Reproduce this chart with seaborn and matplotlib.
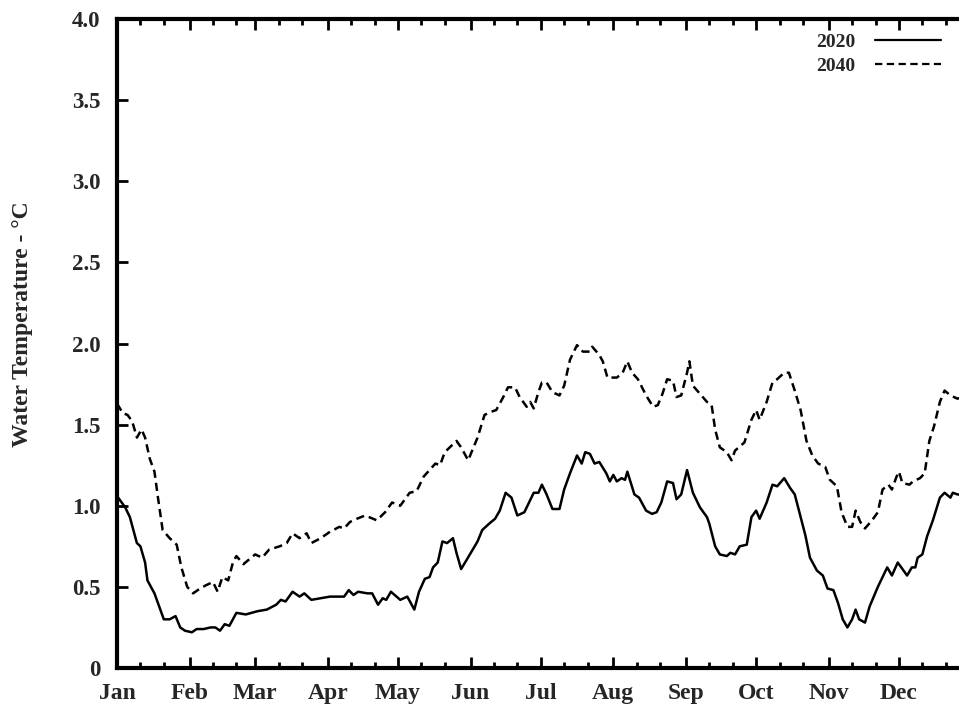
import numpy as np
import pandas as pd
import matplotlib
matplotlib.use("Agg")
import matplotlib.pyplot as plt
import seaborn as sns

# ---- data (day of year, water temperature °C) ----
days_2020 = [0, 2, 3.5, 5.5, 8.5, 10, 12, 13, 16, 18, 20, 22.5, 25, 27, 29, 32, 34, 37, 40, 42,
             44, 46, 48, 51, 55, 60, 64, 68, 70, 72, 75, 78, 80, 83, 87, 91, 94, 97, 99, 101,
             103, 107, 109, 111.5, 113.5, 115, 117, 121, 124, 127, 129, 131.5, 133.5, 135, 137,
             139, 141, 143.5, 145, 147, 149.5, 154, 156, 159, 161.5, 163.5, 166, 168.5, 171, 174,
             178, 180, 181.5, 183.5, 186, 189, 191, 193.5, 196.5, 198.5, 200, 202, 204, 206, 209,
             210.5, 212, 213.5, 215.5, 217, 218, 221, 223, 226, 228.5, 230.5, 232.5, 235, 237.5,
             239, 241, 243.5, 246, 249, 252, 253, 255.5, 257.5, 260.5, 262, 264, 266, 269, 271,
             273, 274.5, 277.5, 280, 282, 285, 287.5, 289.5, 292, 294, 296, 299, 301.5, 303.5,
             306, 308, 310, 312, 314, 315.5, 317, 319.5, 321.5, 325, 329, 331, 333.5, 337.5,
             339.5, 341, 342, 344, 346, 348.5, 351.5, 353.5, 356, 357, 359, 364]
temp_2020 = [1.06, 1.02, 0.99, 0.93, 0.77, 0.75, 0.65, 0.54, 0.46, 0.38, 0.30, 0.30, 0.32, 0.25,
             0.23, 0.22, 0.24, 0.24, 0.25, 0.25, 0.23, 0.27, 0.26, 0.34, 0.33, 0.35, 0.36, 0.39,
             0.42, 0.41, 0.47, 0.44, 0.46, 0.42, 0.43, 0.44, 0.44, 0.44, 0.48, 0.45, 0.47, 0.46,
             0.46, 0.39, 0.43, 0.42, 0.47, 0.42, 0.44, 0.36, 0.47, 0.55, 0.56, 0.62, 0.65, 0.78,
             0.77, 0.80, 0.71, 0.61, 0.67, 0.78, 0.85, 0.89, 0.92, 0.97, 1.08, 1.05, 0.94, 0.96,
             1.08, 1.08, 1.13, 1.07, 0.98, 0.98, 1.10, 1.20, 1.31, 1.26, 1.33, 1.32, 1.26, 1.27,
             1.20, 1.15, 1.19, 1.15, 1.17, 1.16, 1.21, 1.07, 1.05, 0.97, 0.95, 0.96, 1.02, 1.15,
             1.14, 1.04, 1.07, 1.22, 1.08, 0.99, 0.93, 0.89, 0.75, 0.70, 0.69, 0.71, 0.70, 0.75,
             0.76, 0.93, 0.97, 0.92, 1.02, 1.13, 1.12, 1.17, 1.11, 1.07, 0.93, 0.82, 0.68, 0.60,
             0.57, 0.49, 0.48, 0.40, 0.30, 0.25, 0.30, 0.36, 0.30, 0.28, 0.38, 0.50, 0.62, 0.57,
             0.65, 0.57, 0.62, 0.62, 0.68, 0.70, 0.81, 0.91, 1.05, 1.08, 1.05, 1.08, 1.07, 1.06]

days_2040 = [0, 2.5, 4.5, 6.5, 8.5, 10.5, 12, 14, 16, 17.5, 19.5, 22.5, 25.5, 27.5, 30, 32.5,
             35.5, 38, 41, 43, 45, 47.5, 49.5, 51, 54, 59, 62, 65, 69.5, 72.5, 75, 78, 81, 83,
             87, 91, 95, 97, 99.5, 102.5, 106, 111, 114.5, 117.5, 121, 125, 128, 131, 136, 138,
             140, 145, 147, 150, 154, 157, 160, 162, 165, 167, 170, 172, 175, 176.5, 178, 180,
             181.5, 183.5, 186, 189, 191, 193.5, 196.5, 199, 202, 203, 206, 207.5, 209.5, 213.5,
             216, 218, 220, 222.5, 226, 229, 231, 233, 235, 237.5, 239, 241, 243.5, 244.5, 246,
             249, 252, 254, 255.5, 257.5, 260.5, 262.5, 264, 268, 271, 273, 274.5, 277.5, 280,
             282, 285, 287, 289.5, 292, 294.5, 297, 299.5, 302.5, 304.5, 307.5, 309.5, 312, 314,
             315.5, 317.5, 319.5, 322.5, 325, 327, 329.5, 331, 333, 334, 335.5, 338.5, 340, 343,
             345, 347, 349, 351.5, 353.5, 356, 359, 364]
temp_2040 = [1.63, 1.57, 1.56, 1.52, 1.42, 1.47, 1.42, 1.29, 1.21, 1.05, 0.85, 0.80, 0.76, 0.62,
             0.50, 0.46, 0.49, 0.51, 0.53, 0.47, 0.56, 0.54, 0.65, 0.69, 0.64, 0.70, 0.68, 0.73,
             0.75, 0.77, 0.83, 0.80, 0.83, 0.77, 0.80, 0.84, 0.87, 0.86, 0.90, 0.92, 0.94, 0.91,
             0.96, 1.02, 1.00, 1.08, 1.09, 1.18, 1.26, 1.25, 1.33, 1.40, 1.36, 1.28, 1.42, 1.56,
             1.58, 1.59, 1.67, 1.73, 1.73, 1.67, 1.61, 1.64, 1.60, 1.70, 1.76, 1.76, 1.70, 1.68,
             1.74, 1.90, 1.99, 1.95, 1.95, 1.98, 1.93, 1.89, 1.79, 1.79, 1.82, 1.89, 1.82, 1.78,
             1.68, 1.61, 1.62, 1.69, 1.78, 1.77, 1.67, 1.68, 1.82, 1.89, 1.74, 1.69, 1.64, 1.62,
             1.47, 1.36, 1.33, 1.28, 1.34, 1.39, 1.53, 1.59, 1.53, 1.64, 1.76, 1.78, 1.82, 1.82,
             1.71, 1.59, 1.40, 1.31, 1.26, 1.24, 1.16, 1.12, 0.96, 0.87, 0.87, 0.97, 0.90, 0.86,
             0.91, 0.96, 1.10, 1.13, 1.10, 1.18, 1.21, 1.14, 1.13, 1.15, 1.17, 1.20, 1.40, 1.49,
             1.64, 1.71, 1.68, 1.66, 1.68]

month_labels = ["Jan", "Feb", "Mar", "Apr", "May", "Jun", "Jul", "Aug", "Sep", "Oct", "Nov", "Dec"]
month_starts = [0, 31, 59, 90, 120, 151, 181, 212, 243, 273, 304, 334]
y_ticks = [0, 0.5, 1.0, 1.5, 2.0, 2.5, 3.0, 3.5, 4.0]
y_tick_labels = ["0", "0.5", "1.0", "1.5", "2.0", "2.5", "3.0", "3.5", "4.0"]
series_names = ["2020", "2040"]

df = pd.concat([
    pd.DataFrame({"day": days_2020, "temp": temp_2020, "year": series_names[0]}),
    pd.DataFrame({"day": days_2040, "temp": temp_2040, "year": series_names[1]}),
], ignore_index=True)

sns.set_style("white")
plt.rcParams["font.family"] = ["Liberation Serif", "DejaVu Serif"]
plt.rcParams["font.weight"] = "bold"

W, H = 959, 705
fig = plt.figure(figsize=(W / 100, H / 100), dpi=100)
ax_left, ax_right, ax_top, ax_bottom = 117, 971.5, 19, 668
ax = fig.add_axes([ax_left / W, 1 - ax_bottom / H, (ax_right - ax_left) / W, (ax_bottom - ax_top) / H])

sns.lineplot(data=df, x="day", y="temp", style="year",
             dashes={"2020": "", "2040": (3.3, 2.0)},
             color="black", linewidth=1.8, estimator=None, ax=ax)

ax.set_xlim(0, 365)
ax.set_ylim(0, 4.0)
ax.set_xticks(month_starts)
ax.set_xticklabels(month_labels, fontsize=17, fontweight="bold")
minor = [m + k for m in month_starts for k in (10, 20)]
ax.set_xticks(minor, minor=True)
ax.set_yticks(y_ticks)
ax.set_yticklabels(y_tick_labels, fontsize=16.5, fontweight="bold")
ax.set_xlabel("")
ax.set_ylabel("")

for s in ax.spines.values():
    s.set_linewidth(3)
    s.set_color("black")
    s.set_visible(True)

ax.tick_params(axis="both", which="major", direction="in", length=8, width=2,
               top=True, right=True, bottom=True, left=True, color="black")
ax.tick_params(axis="x", which="minor", direction="in", length=4, width=2,
               top=True, bottom=True, color="black")
ax.tick_params(axis="x", which="major", pad=11)
ax.tick_params(axis="y", which="major", pad=12)

fig.text(23 / W, 1 - 324 / H, "Water Temperature - °C", rotation=90,
         ha="center", va="center", fontsize=17, fontweight="bold")

handles, labels = ax.get_legend_handles_labels()
pairs = [(h, l) for h, l in zip(handles, labels) if l in series_names]
leg = ax.legend([p[0] for p in pairs], [p[1] for p in pairs], loc="upper right",
                bbox_to_anchor=(941 / W, 1 - 33 / H), bbox_transform=fig.transFigure,
                frameon=False, markerfirst=False, handlelength=3.4, handletextpad=1.0,
                labelspacing=0.35, borderpad=0, borderaxespad=0,
                prop={"family": "Liberation Serif", "weight": "bold", "size": 14})
for line in leg.get_lines():
    line.set_linewidth(1.6)

fig.savefig("out.png", dpi=100)
